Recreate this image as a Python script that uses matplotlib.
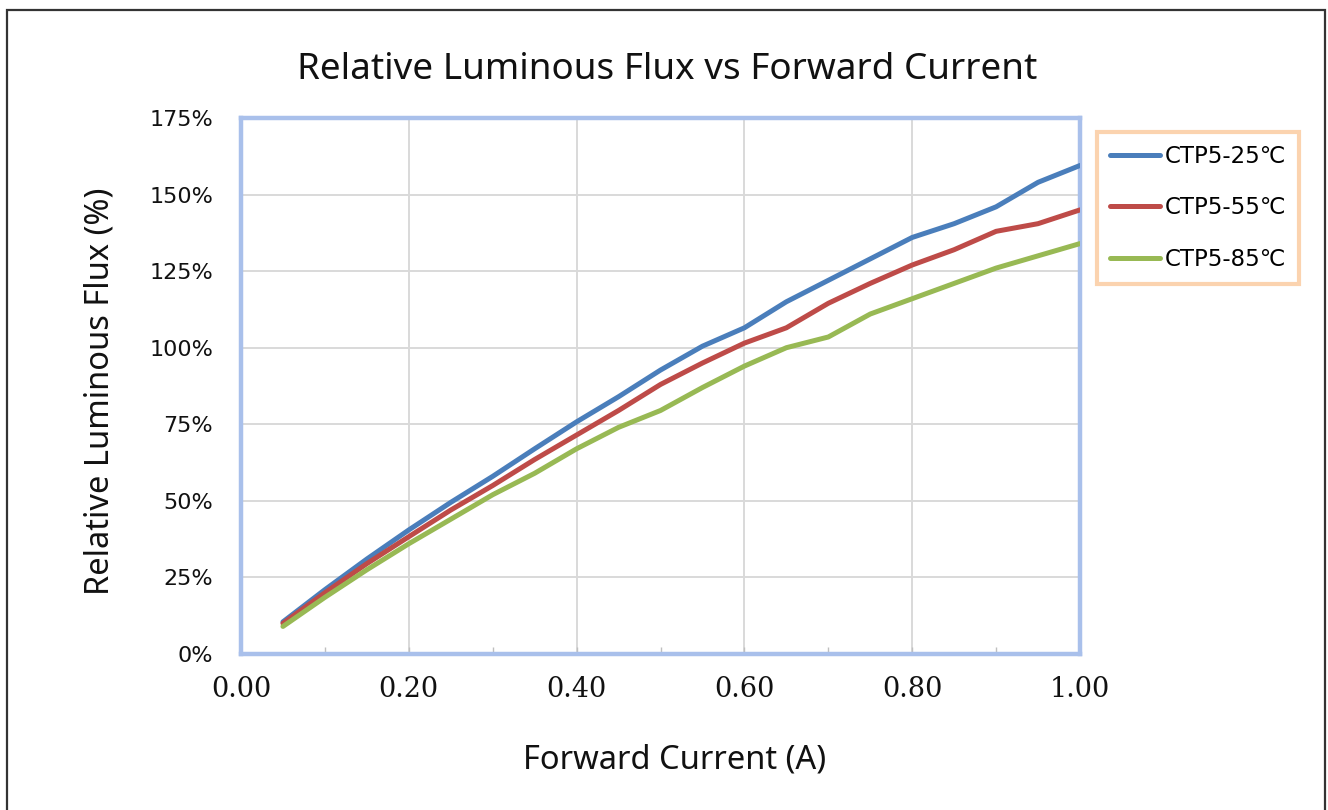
import matplotlib
matplotlib.use("Agg")
import matplotlib.pyplot as plt
from matplotlib.ticker import MultipleLocator, FuncFormatter
from matplotlib.patches import Rectangle

# ---- data ----
current_a = [0.05, 0.10, 0.15, 0.20, 0.25, 0.30, 0.35, 0.40, 0.45, 0.50,
             0.55, 0.60, 0.65, 0.70, 0.75, 0.80, 0.85, 0.90, 0.95, 1.00]
flux_25c = [10.5, 21, 31, 40.5, 49.5, 58, 67, 75.8, 84, 92.7,
            100.5, 106.5, 115, 122, 129, 136, 140.5, 146, 154, 159.5]
flux_55c = [10, 20, 29.5, 38.3, 47, 55, 63.5, 71.5, 79.5, 88,
            95, 101.5, 106.5, 114.5, 121, 127, 132, 138, 140.5, 145]
flux_85c = [9, 18.5, 27.5, 36, 44, 52, 59, 67, 74, 79.5,
            87, 94, 100, 103.5, 111, 116, 121, 126, 130, 134]
series_labels = ["CTP5-25℃", "CTP5-55℃", "CTP5-85℃"]
series_colors = ["#4A7EBB", "#BE4B48", "#98B954"]
x_ticks = [0.0, 0.2, 0.4, 0.6, 0.8, 1.0]
y_ticks = [0, 25, 50, 75, 100, 125, 150, 175]

W, H = 1328, 810
fig = plt.figure(figsize=(W / 100, H / 100), dpi=100)
fig.patch.set_facecolor("white")

L, R, T, B = 241, 1080, 118, 654
ax = fig.add_axes([L / W, 1 - B / H, (R - L) / W, (B - T) / H])

for vals, col, lab in zip([flux_25c, flux_55c, flux_85c], series_colors, series_labels):
    ax.plot(current_a, vals, color=col, lw=3.6, label=lab,
            solid_capstyle="round", solid_joinstyle="round", zorder=3)

ax.set_xlim(0, 1.0)
ax.set_ylim(0, 175)
ax.set_xticks(x_ticks)
ax.xaxis.set_minor_locator(MultipleLocator(0.1))
ax.set_yticks(y_ticks)
ax.xaxis.set_major_formatter(FuncFormatter(lambda v, p: f"{v:.2f}"))
ax.yaxis.set_major_formatter(FuncFormatter(lambda v, p: f"{int(v)}%"))

ax.grid(True, which="major", color="#D9D9D9", lw=1.4, zorder=0)
ax.set_axisbelow(True)

for s in ax.spines.values():
    s.set_color("#A9C0EB")
    s.set_linewidth(3.2)
ax.axhline(0, color="#BFBFBF", lw=1.3, zorder=2, clip_on=False)

ax.tick_params(axis="x", which="both", direction="in", length=5, width=1,
               color="#BFBFBF", pad=16, labelsize=19.5, labelcolor="#111111")
ax.tick_params(axis="y", which="both", length=0, pad=20, labelsize=16,
               labelcolor="#111111")
for t in ax.get_xticklabels():
    t.set_fontfamily("DejaVu Serif")
for t in ax.get_yticklabels():
    t.set_fontfamily("DejaVu Sans")

fig.text(667 / W, 1 - 70 / H, "Relative Luminous Flux vs Forward Current",
         ha="center", va="center", fontsize=26.5, family="Noto Sans", color="#111111")
fig.text(675 / W, 1 - 760 / H, "Forward Current (A)",
         ha="center", va="center", fontsize=23.5, family="Noto Sans", color="#111111")
fig.text(100 / W, 1 - 391 / H, "Relative Luminous Flux (%)", rotation=90,
         ha="center", va="center", fontsize=23.5, family="Noto Sans", color="#111111")

leg = ax.legend(loc="upper left", bbox_to_anchor=(1097 / W, 1 - 132 / H),
                bbox_transform=fig.transFigure, borderaxespad=0,
                frameon=True, fancybox=False, handlelength=2.2, handletextpad=0.2,
                labelspacing=1.25, borderpad=0.55,
                prop={"family": ["DejaVu Sans", "Noto Sans CJK SC"], "size": 16.5})
leg.get_frame().set_edgecolor("#FBC99B")
leg.get_frame().set_linewidth(3)
for line in leg.get_lines():
    line.set_linewidth(3.6)

# outer chart frame
fig.patches.append(Rectangle((7 / W, -0.02), (1325 - 7) / W, 1 - 10 / H + 0.02,
                             transform=fig.transFigure, fill=False,
                             edgecolor="#333333", lw=1.6))

fig.savefig("out.png", dpi=100)
